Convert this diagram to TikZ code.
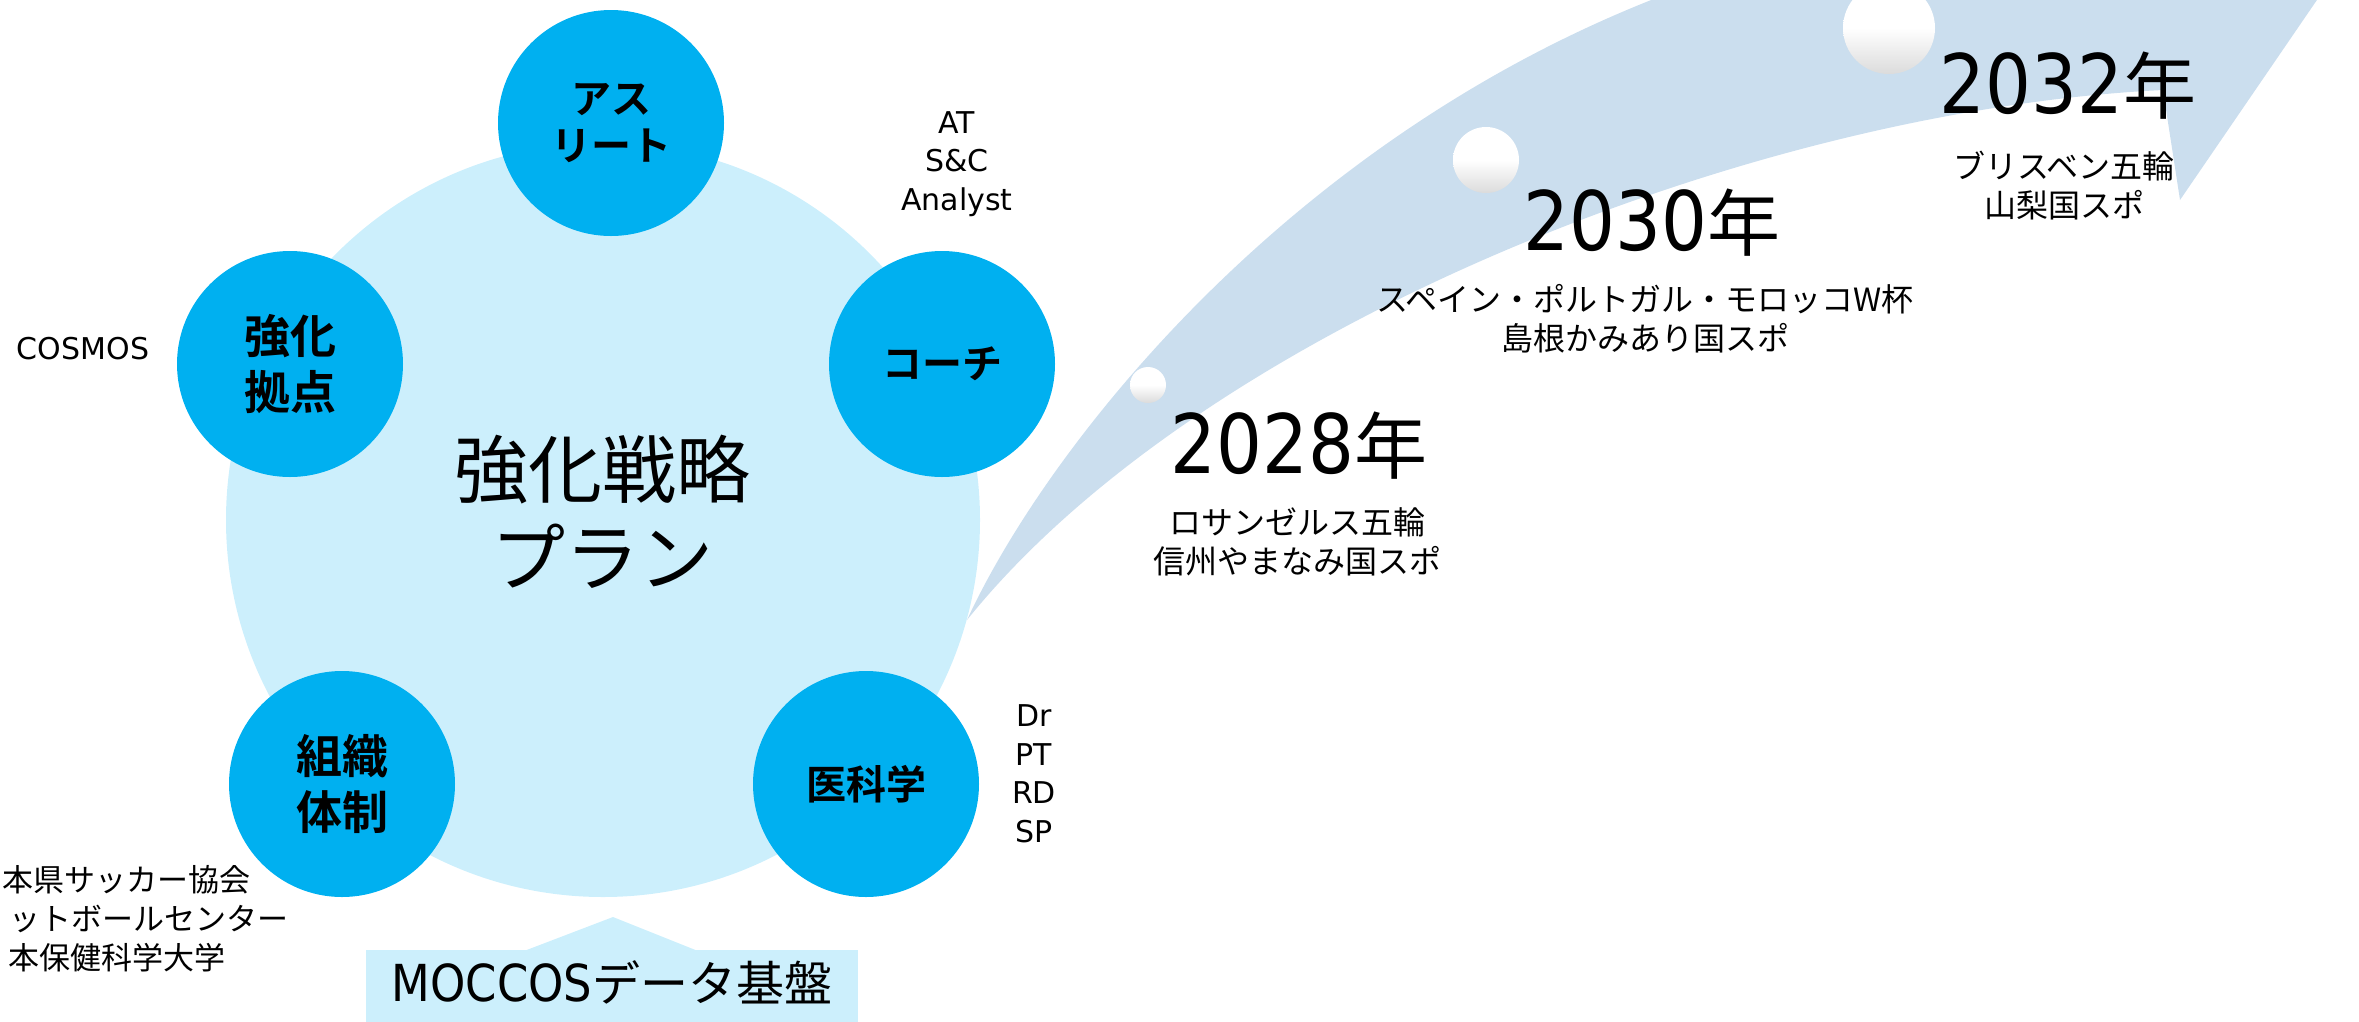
\documentclass[tikz,border=0pt]{standalone}
\usepackage{fontspec}
\setmainfont{Noto Sans CJK JP}
\newfontfamily\jp{Noto Sans CJK JP}[BoldFont={Noto Sans CJK JP Bold}]
\newfontfamily\latn{DejaVu Sans}
\newfontfamily\latc{DejaVu Sans}[FakeStretch=0.88]
\definecolor{cyanC}{HTML}{00B0F0}
\definecolor{lightC}{HTML}{CCEFFC}
\definecolor{arrowC}{HTML}{CBDEEE}
\newcommand{\fsz}[2]{\fontsize{#1}{#2}\selectfont}
\begin{document}
\begin{tikzpicture}[x=1pt,y=-1pt,
  smallc/.style={circle,fill=cyanC,minimum size=226pt,inner sep=0pt,align=center,
    font=\jp\bfseries\fsz{40}{47}},
  kanjic/.style={smallc,font=\jp\bfseries\fsz{46}{56}},
  lbl/.style={align=center,inner sep=0pt,font=\latn\fsz{30}{38.5}},
  jlbl/.style={align=center,inner sep=0pt,font=\jp\fsz{32}{39}},
  blbl/.style={inner sep=0pt,font=\jp\fsz{31}{39}},
  yearlbl/.style={inner sep=0pt},
  bubble/.style={top color=white,bottom color=black!14,middle color=white}]
\useasboundingbox (0,0) rectangle (2359,1021);
\clip (0,0) rectangle (2359,1021);
% timeline arrow
\fill[arrowC] (967,620) .. controls (1050,440) and (1310,110) .. (1720,-25)
  -- (1720,-60) -- (2358,-60) -- (2180,200) -- (2163,90)
  .. controls (1750,110) and (1200,330) .. (967,620) -- cycle;
% big circle
\node[circle,fill=lightC,minimum size=754pt,inner sep=0pt] (plan) at (603,520) {};
\node[align=center,inner sep=0pt,font=\jp\fsz{74}{88}] (plantext) at (602,512) {強化戦略\\プラン};
% small circles
\node[smallc] (athlete) at (611,123) {アス\\リート};
\node[kanjic] (base) at (290,364) {強化\\拠点};
\node[smallc] (coach) at (942,364) {コーチ};
\node[kanjic] (org) at (342,784) {組織\\体制};
\node[smallc] (med) at (866,784) {医科学};
% side labels
\node[lbl] (cosmos) at (83,349) {COSMOS};
\node[lbl] (coachlbl) at (957,164) {AT\\S\&C\\Analyst};
\node[lbl] (medlbl) at (1034,774) {Dr\\PT\\RD\\SP};
\node[blbl,anchor=east] (org1) at (251,880) {本県サッカー協会};
\node[blbl,anchor=east] (org2) at (289,919) {ットボールセンター};
\node[blbl,anchor=east] (org3) at (226,958) {本保健科学大学};
% MOCCOS base
\fill[lightC] (524,951) -- (613,917) -- (698,951) -- cycle;
\node[rectangle,fill=lightC,minimum width=492pt,minimum height=80pt,inner sep=0pt,anchor=north west] (moccos) at (366,950) {};
\node[inner sep=0pt] (moccostext) at (612,982) {{\latc\fsz{51}{60}MOCCOS}{\jp\fsz{48}{60}データ基盤}};
% bubbles
\shade[bubble] (1148,385) circle (18);
\shade[bubble] (1486,160) circle (33);
\shade[bubble] (1889,28) circle (46);
% years
\node[yearlbl] (y2028) at (1299,446) {{\latc\fsz{82}{84}2028}{\jp\fsz{73}{84}年}};
\node[jlbl] (e2028) at (1297,542) {ロサンゼルス五輪\\信州やまなみ国スポ};
\node[yearlbl] (y2030) at (1652,223) {{\latc\fsz{82}{84}2030}{\jp\fsz{73}{84}年}};
\node[jlbl] (e2030) at (1645,319) {スペイン・ポルトガル・モロッコW杯\\島根かみあり国スポ};
\node[yearlbl] (y2032) at (2068,86) {{\latc\fsz{82}{84}2032}{\jp\fsz{73}{84}年}};
\node[jlbl] (e2032) at (2064,186) {ブリスベン五輪\\山梨国スポ};
\end{tikzpicture}
\end{document}
